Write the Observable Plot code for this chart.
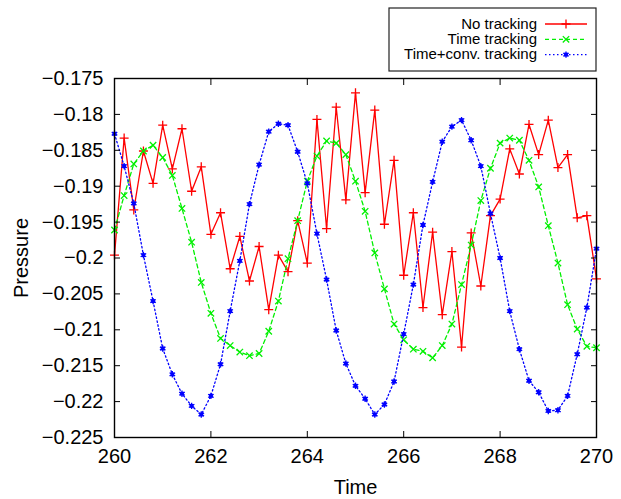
<!DOCTYPE html>
<html>
<head>
<meta charset="utf-8">
<script src="https://cdn.jsdelivr.net/npm/d3@7"></script>
<script src="https://cdn.jsdelivr.net/npm/@observablehq/plot@0.6"></script>
<style>
  body { margin: 0; background: #fff; }
  #chart { position: relative; width: 621px; height: 499px; font-family: "Liberation Sans", Arial, Helvetica, sans-serif; }
</style>
</head>
<body>
<div id="chart"></div>
<script>
// Sample times (every 0.2 time units)
const time = [
  260.0, 260.2, 260.4, 260.6, 260.8, 261.0, 261.2, 261.4, 261.6, 261.8,
  262.0, 262.2, 262.4, 262.6, 262.8, 263.0, 263.2, 263.4, 263.6, 263.8,
  264.0, 264.2, 264.4, 264.6, 264.8, 265.0, 265.2, 265.4, 265.6, 265.8,
  266.0, 266.2, 266.4, 266.6, 266.8, 267.0, 267.2, 267.4, 267.6, 267.8,
  268.0, 268.2, 268.4, 268.6, 268.8, 269.0, 269.2, 269.4, 269.6, 269.8,
  270.0
];

// Pressure, no tracking
const noTracking = [
  -0.1996, -0.1833, -0.1933, -0.1851, -0.1896, -0.1815, -0.1876, -0.1820, -0.1907, -0.1873,
  -0.1967, -0.1937, -0.2015, -0.1970, -0.2032, -0.1984, -0.2072, -0.1996, -0.2019, -0.1948,
  -0.2007, -0.1807, -0.1959, -0.1790, -0.1919, -0.1770, -0.1909, -0.1794, -0.1953, -0.1864,
  -0.2024, -0.1937, -0.2069, -0.1964, -0.2079, -0.1991, -0.2124, -0.1965, -0.2039, -0.1941,
  -0.1918, -0.1848, -0.1883, -0.1814, -0.1856, -0.1808, -0.1874, -0.1856, -0.1944, -0.1941,
  -0.2029
];

// Pressure, time tracking
const timeTracking = [
  -0.1961, -0.1913, -0.1869, -0.1851, -0.1843, -0.1860, -0.1885, -0.1931, -0.1978, -0.2034,
  -0.2077, -0.2112, -0.2122, -0.2131, -0.2136, -0.2133, -0.2102, -0.2060, -0.2001, -0.1948,
  -0.1893, -0.1858, -0.1837, -0.1840, -0.1856, -0.1893, -0.1935, -0.1993, -0.2043, -0.2092,
  -0.2114, -0.2127, -0.2130, -0.2139, -0.2122, -0.2092, -0.2037, -0.1982, -0.1920, -0.1875,
  -0.1840, -0.1833, -0.1836, -0.1864, -0.1901, -0.1955, -0.2007, -0.2065, -0.2099, -0.2123,
  -0.2125
];

// Pressure, time + convection tracking
const convTracking = [
  -0.1827, -0.1872, -0.1924, -0.1996, -0.2060, -0.2126, -0.2162, -0.2189, -0.2206, -0.2218,
  -0.2192, -0.2148, -0.2074, -0.2004, -0.1925, -0.1870, -0.1824, -0.1813, -0.1815, -0.1852,
  -0.1896, -0.1966, -0.2030, -0.2101, -0.2147, -0.2178, -0.2196, -0.2218, -0.2204, -0.2172,
  -0.2106, -0.2037, -0.1954, -0.1894, -0.1838, -0.1817, -0.1808, -0.1836, -0.1872, -0.1938,
  -0.2000, -0.2074, -0.2127, -0.2171, -0.2187, -0.2213, -0.2212, -0.2192, -0.2134, -0.2069,
  -0.1987
];

const xTicks = [260, 262, 264, 266, 268, 270];
const yTicks = [-0.225, -0.22, -0.215, -0.21, -0.205, -0.2, -0.195, -0.19, -0.185, -0.18, -0.175];

const series = [
  { name: "No tracking", values: noTracking, color: "#ff0000", dash: null, symbol: "plus" },
  { name: "Time tracking", values: timeTracking, color: "#00f000", dash: "4,3", symbol: "times" },
  { name: "Time+conv. tracking", values: convTracking, color: "#0000ff", dash: "1.5,2.5", symbol: "asterisk" }
];

const seriesRows = s => time.map((t, i) => ({ t, p: s.values[i] }));

const marks = [];
for (const s of series) {
  const rows = seriesRows(s);
  marks.push(Plot.line(rows, { x: "t", y: "p", stroke: s.color, strokeWidth: 1.3, strokeDasharray: s.dash }));
  if (s.symbol === "asterisk") {
    marks.push(Plot.dot(rows, { x: "t", y: "p", symbol: "square", r: 2.2, fill: s.color }));
  }
  marks.push(Plot.dot(rows, { x: "t", y: "p", symbol: s.symbol, r: 3, stroke: s.color, strokeWidth: 1.3 }));
}

const fmtY = d3.format("~g");
const blank = () => "";

const chart = Plot.plot({
  width: 621,
  height: 499,
  marginLeft: 114,
  marginRight: 25,
  marginTop: 78,
  marginBottom: 62,
  style: { fontFamily: "'Liberation Sans', Arial, Helvetica, sans-serif", fontSize: "20px", background: "#fff", color: "#000" },
  x: { domain: [260, 270] },
  y: { domain: [-0.225, -0.175] },
  marks: [
    ...marks,
    Plot.axisX({ ticks: xTicks, tickSize: 0, tickPadding: 11, fontSize: 20, label: "Time", labelAnchor: "center", labelArrow: "none", labelOffset: 56 }),
    Plot.axisX({ anchor: "bottom", ticks: xTicks, tickSize: -6, tickFormat: blank, label: null }),
    Plot.axisX({ anchor: "top", ticks: xTicks, tickSize: -6, tickFormat: blank, label: null }),
    Plot.axisY({ ticks: yTicks, tickSize: 0, tickPadding: 11, fontSize: 20, tickFormat: fmtY, label: "Pressure", labelAnchor: "center", labelArrow: "none", labelOffset: 101 }),
    Plot.axisY({ anchor: "left", ticks: yTicks, tickSize: -6, tickFormat: blank, label: null }),
    Plot.axisY({ anchor: "right", ticks: yTicks, tickSize: -6, tickFormat: blank, label: null }),
    Plot.frame({ stroke: "#000", strokeWidth: 1.4 })
  ]
});
document.getElementById("chart").append(chart);

// Key box in the top-right corner
const key = d3.select("#chart").append("svg")
  .attr("width", 210).attr("height", 66)
  .style("position", "absolute").style("left", "388px").style("top", "7px");
key.append("rect")
  .attr("x", 1).attr("y", 1).attr("width", 207).attr("height", 63)
  .attr("fill", "#fff").attr("stroke", "#222").attr("stroke-width", 1.2);
const symbolOf = { plus: d3.symbolPlus, times: d3.symbolTimes, asterisk: d3.symbolAsterisk };
series.forEach((s, i) => {
  const cy = 17 + i * 15.3;
  key.append("text")
    .attr("x", 149).attr("y", cy).attr("dy", "0.3em")
    .attr("text-anchor", "end")
    .attr("font-family", "'Liberation Sans', Arial, Helvetica, sans-serif")
    .attr("font-size", 15)
    .text(s.name);
  key.append("line")
    .attr("x1", 157).attr("x2", 199).attr("y1", cy).attr("y2", cy)
    .attr("stroke", s.color).attr("stroke-width", 1.3)
    .attr("stroke-dasharray", s.dash);
  if (s.symbol === "asterisk") {
    key.append("path")
      .attr("d", d3.symbol(d3.symbolSquare, 2.2 * 2.2 * Math.PI)())
      .attr("transform", `translate(178,${cy})`).attr("fill", s.color);
  }
  key.append("path")
    .attr("d", d3.symbol(symbolOf[s.symbol], 9 * Math.PI)())
    .attr("transform", `translate(178,${cy})`)
    .attr("fill", "none").attr("stroke", s.color).attr("stroke-width", 1.3);
});
</script>
</body>
</html>
